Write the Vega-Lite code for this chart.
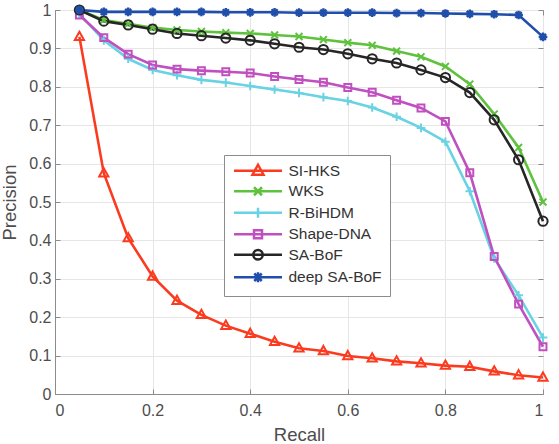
{
  "$schema": "https://vega.github.io/schema/vega-lite/v6.json",
  "width": 488,
  "height": 384,
  "autosize": {"type": "none"},
  "padding": {"left": 55, "top": 10, "right": 16, "bottom": 50},
  "background": "white",
  "config": {
    "view": {"stroke": "#8c8c8c", "strokeWidth": 1},
    "font": "Liberation Sans",
    "axis": {
      "labelFont": "Liberation Sans",
      "labelFontSize": 16,
      "labelColor": "#4d4d4d",
      "titleFont": "Liberation Sans",
      "titleFontSize": 18.5,
      "titleFontWeight": "normal",
      "titleColor": "#4d4d4d",
      "domainColor": "#8c8c8c",
      "tickColor": "#8c8c8c",
      "gridColor": "#e6e6e6",
      "gridWidth": 1
    },
    "point": {"filled": false, "size": 75, "strokeWidth": 2, "opacity": 1}
  },
  "data": {
    "values": [
      {"method": "SI-HKS", "recall": 0.05, "precision": 0.93},
      {"method": "SI-HKS", "recall": 0.10, "precision": 0.575},
      {"method": "SI-HKS", "recall": 0.15, "precision": 0.406},
      {"method": "SI-HKS", "recall": 0.20, "precision": 0.306},
      {"method": "SI-HKS", "recall": 0.25, "precision": 0.243},
      {"method": "SI-HKS", "recall": 0.30, "precision": 0.206},
      {"method": "SI-HKS", "recall": 0.35, "precision": 0.178},
      {"method": "SI-HKS", "recall": 0.40, "precision": 0.157},
      {"method": "SI-HKS", "recall": 0.45, "precision": 0.136},
      {"method": "SI-HKS", "recall": 0.50, "precision": 0.119},
      {"method": "SI-HKS", "recall": 0.55, "precision": 0.112},
      {"method": "SI-HKS", "recall": 0.60, "precision": 0.099},
      {"method": "SI-HKS", "recall": 0.65, "precision": 0.093},
      {"method": "SI-HKS", "recall": 0.70, "precision": 0.085},
      {"method": "SI-HKS", "recall": 0.75, "precision": 0.080},
      {"method": "SI-HKS", "recall": 0.80, "precision": 0.074},
      {"method": "SI-HKS", "recall": 0.85, "precision": 0.071},
      {"method": "SI-HKS", "recall": 0.90, "precision": 0.059},
      {"method": "SI-HKS", "recall": 0.95, "precision": 0.049},
      {"method": "SI-HKS", "recall": 1.00, "precision": 0.043},

      {"method": "WKS", "recall": 0.05, "precision": 1.0},
      {"method": "WKS", "recall": 0.10, "precision": 0.974},
      {"method": "WKS", "recall": 0.15, "precision": 0.964},
      {"method": "WKS", "recall": 0.20, "precision": 0.954},
      {"method": "WKS", "recall": 0.25, "precision": 0.948},
      {"method": "WKS", "recall": 0.30, "precision": 0.944},
      {"method": "WKS", "recall": 0.35, "precision": 0.941},
      {"method": "WKS", "recall": 0.40, "precision": 0.939},
      {"method": "WKS", "recall": 0.45, "precision": 0.935},
      {"method": "WKS", "recall": 0.50, "precision": 0.931},
      {"method": "WKS", "recall": 0.55, "precision": 0.923},
      {"method": "WKS", "recall": 0.60, "precision": 0.915},
      {"method": "WKS", "recall": 0.65, "precision": 0.908},
      {"method": "WKS", "recall": 0.70, "precision": 0.893},
      {"method": "WKS", "recall": 0.75, "precision": 0.878},
      {"method": "WKS", "recall": 0.80, "precision": 0.853},
      {"method": "WKS", "recall": 0.85, "precision": 0.807},
      {"method": "WKS", "recall": 0.90, "precision": 0.729},
      {"method": "WKS", "recall": 0.95, "precision": 0.642},
      {"method": "WKS", "recall": 1.00, "precision": 0.50},

      {"method": "R-BiHDM", "recall": 0.05, "precision": 0.99},
      {"method": "R-BiHDM", "recall": 0.10, "precision": 0.921},
      {"method": "R-BiHDM", "recall": 0.15, "precision": 0.873},
      {"method": "R-BiHDM", "recall": 0.20, "precision": 0.844},
      {"method": "R-BiHDM", "recall": 0.25, "precision": 0.830},
      {"method": "R-BiHDM", "recall": 0.30, "precision": 0.818},
      {"method": "R-BiHDM", "recall": 0.35, "precision": 0.811},
      {"method": "R-BiHDM", "recall": 0.40, "precision": 0.802},
      {"method": "R-BiHDM", "recall": 0.45, "precision": 0.793},
      {"method": "R-BiHDM", "recall": 0.50, "precision": 0.784},
      {"method": "R-BiHDM", "recall": 0.55, "precision": 0.773},
      {"method": "R-BiHDM", "recall": 0.60, "precision": 0.763},
      {"method": "R-BiHDM", "recall": 0.65, "precision": 0.746},
      {"method": "R-BiHDM", "recall": 0.70, "precision": 0.722},
      {"method": "R-BiHDM", "recall": 0.75, "precision": 0.693},
      {"method": "R-BiHDM", "recall": 0.80, "precision": 0.657},
      {"method": "R-BiHDM", "recall": 0.85, "precision": 0.528},
      {"method": "R-BiHDM", "recall": 0.90, "precision": 0.353},
      {"method": "R-BiHDM", "recall": 0.95, "precision": 0.257},
      {"method": "R-BiHDM", "recall": 1.00, "precision": 0.147},

      {"method": "Shape-DNA", "recall": 0.05, "precision": 0.987},
      {"method": "Shape-DNA", "recall": 0.10, "precision": 0.928},
      {"method": "Shape-DNA", "recall": 0.15, "precision": 0.885},
      {"method": "Shape-DNA", "recall": 0.20, "precision": 0.857},
      {"method": "Shape-DNA", "recall": 0.25, "precision": 0.846},
      {"method": "Shape-DNA", "recall": 0.30, "precision": 0.842},
      {"method": "Shape-DNA", "recall": 0.35, "precision": 0.839},
      {"method": "Shape-DNA", "recall": 0.40, "precision": 0.836},
      {"method": "Shape-DNA", "recall": 0.45, "precision": 0.827},
      {"method": "Shape-DNA", "recall": 0.50, "precision": 0.819},
      {"method": "Shape-DNA", "recall": 0.55, "precision": 0.812},
      {"method": "Shape-DNA", "recall": 0.60, "precision": 0.798},
      {"method": "Shape-DNA", "recall": 0.65, "precision": 0.786},
      {"method": "Shape-DNA", "recall": 0.70, "precision": 0.765},
      {"method": "Shape-DNA", "recall": 0.75, "precision": 0.745},
      {"method": "Shape-DNA", "recall": 0.80, "precision": 0.710},
      {"method": "Shape-DNA", "recall": 0.85, "precision": 0.576},
      {"method": "Shape-DNA", "recall": 0.90, "precision": 0.358},
      {"method": "Shape-DNA", "recall": 0.95, "precision": 0.234},
      {"method": "Shape-DNA", "recall": 1.00, "precision": 0.123},

      {"method": "SA-BoF", "recall": 0.05, "precision": 1.0},
      {"method": "SA-BoF", "recall": 0.10, "precision": 0.971},
      {"method": "SA-BoF", "recall": 0.15, "precision": 0.961},
      {"method": "SA-BoF", "recall": 0.20, "precision": 0.950},
      {"method": "SA-BoF", "recall": 0.25, "precision": 0.939},
      {"method": "SA-BoF", "recall": 0.30, "precision": 0.933},
      {"method": "SA-BoF", "recall": 0.35, "precision": 0.927},
      {"method": "SA-BoF", "recall": 0.40, "precision": 0.921},
      {"method": "SA-BoF", "recall": 0.45, "precision": 0.912},
      {"method": "SA-BoF", "recall": 0.50, "precision": 0.903},
      {"method": "SA-BoF", "recall": 0.55, "precision": 0.897},
      {"method": "SA-BoF", "recall": 0.60, "precision": 0.886},
      {"method": "SA-BoF", "recall": 0.65, "precision": 0.873},
      {"method": "SA-BoF", "recall": 0.70, "precision": 0.862},
      {"method": "SA-BoF", "recall": 0.75, "precision": 0.844},
      {"method": "SA-BoF", "recall": 0.80, "precision": 0.824},
      {"method": "SA-BoF", "recall": 0.85, "precision": 0.785},
      {"method": "SA-BoF", "recall": 0.90, "precision": 0.714},
      {"method": "SA-BoF", "recall": 0.95, "precision": 0.610},
      {"method": "SA-BoF", "recall": 1.00, "precision": 0.450},

      {"method": "deep SA-BoF", "recall": 0.05, "precision": 1.0},
      {"method": "deep SA-BoF", "recall": 0.10, "precision": 0.995},
      {"method": "deep SA-BoF", "recall": 0.15, "precision": 0.995},
      {"method": "deep SA-BoF", "recall": 0.20, "precision": 0.995},
      {"method": "deep SA-BoF", "recall": 0.25, "precision": 0.995},
      {"method": "deep SA-BoF", "recall": 0.30, "precision": 0.995},
      {"method": "deep SA-BoF", "recall": 0.35, "precision": 0.994},
      {"method": "deep SA-BoF", "recall": 0.40, "precision": 0.994},
      {"method": "deep SA-BoF", "recall": 0.45, "precision": 0.994},
      {"method": "deep SA-BoF", "recall": 0.50, "precision": 0.993},
      {"method": "deep SA-BoF", "recall": 0.55, "precision": 0.993},
      {"method": "deep SA-BoF", "recall": 0.60, "precision": 0.993},
      {"method": "deep SA-BoF", "recall": 0.65, "precision": 0.993},
      {"method": "deep SA-BoF", "recall": 0.70, "precision": 0.992},
      {"method": "deep SA-BoF", "recall": 0.75, "precision": 0.992},
      {"method": "deep SA-BoF", "recall": 0.80, "precision": 0.991},
      {"method": "deep SA-BoF", "recall": 0.85, "precision": 0.990},
      {"method": "deep SA-BoF", "recall": 0.90, "precision": 0.989},
      {"method": "deep SA-BoF", "recall": 0.95, "precision": 0.987},
      {"method": "deep SA-BoF", "recall": 1.00, "precision": 0.930}
    ]
  },
  "encoding": {
    "color": {
      "field": "method", "type": "nominal",
      "scale": {
        "domain": ["SI-HKS", "WKS", "R-BiHDM", "Shape-DNA", "SA-BoF", "deep SA-BoF"],
        "range": ["#fb3b1f", "#5fc23f", "#69d2e3", "#c04fc0", "#262626", "#1f4eab"]
      },
      "legend": null
    }
  },
  "layer": [
    {
      "mark": {"type": "line", "strokeWidth": 2.6},
      "encoding": {
        "x": {
          "field": "recall", "type": "quantitative",
          "scale": {"domain": [0, 1], "nice": false, "zero": false},
          "axis": {"title": "Recall", "values": [0, 0.2, 0.4, 0.6, 0.8, 1], "format": "~g", "grid": true, "tickSize": -5, "labelPadding": 13, "titlePadding": 7}
        },
        "y": {
          "field": "precision", "type": "quantitative",
          "scale": {"domain": [0, 1], "nice": false, "zero": false},
          "axis": {"title": "Precision", "values": [0, 0.1, 0.2, 0.3, 0.4, 0.5, 0.6, 0.7, 0.8, 0.9, 1], "format": "~g", "grid": true, "tickSize": -5, "labelPadding": 9, "titleX": -36}
        },
        "color": {
          "field": "method", "type": "nominal",
          "legend": {
            "orient": "none", "legendX": 169, "legendY": 145, "title": null,
            "padding": 8, "strokeColor": "#8c8c8c", "fillColor": "white",
            "labelFont": "Liberation Sans", "labelFontSize": 15.5, "labelColor": "#333333",
            "symbolSize": 100, "rowPadding": 1.5, "labelOffset": 41, "symbolStrokeWidth": 2.5,
            "encode": {
              "symbols": {
                "update": {
                  "shape": {"signal": "datum.value === 'SI-HKS' ? 'M-4.8,0L4.8,0M0,-1.2L1.1,0.8L-1.1,0.8Z' : datum.value === 'WKS' ? 'M-4.8,0L4.8,0M-0.8,-0.8L0.8,0.8M-0.8,0.8L0.8,-0.8' : datum.value === 'R-BiHDM' ? 'M-4.8,0L4.8,0M0,-1L0,1' : datum.value === 'Shape-DNA' ? 'M-4.8,0L4.8,0M-0.8,-0.8L0.8,-0.8L0.8,0.8L-0.8,0.8Z' : datum.value === 'SA-BoF' ? 'M-4.8,0L4.8,0M0.95,0A0.95,0.95,0,1,1,-0.95,0A0.95,0.95,0,1,1,0.95,0Z' : 'M-4.8,0L4.8,0M0,-1L0,1M-0.75,-0.75L0.75,0.75M-0.75,0.75L0.75,-0.75'"},
                  "x": {"value": 26},
                  "fill": {"value": "transparent"},
                  "strokeWidth": {"value": 2.5},
                  "opacity": {"value": 1}
                }
              }
            }
          }
        }
      }
    },
    {
      "transform": [{"filter": "datum.method === 'SI-HKS'"}],
      "mark": {"type": "point", "shape": "M0,-1.1L1,0.7L-1,0.7Z", "size": 85},
      "encoding": {
        "x": {"field": "recall", "type": "quantitative", "axis": {"orient": "top", "title": null, "labels": false, "grid": false, "domain": false, "values": [0, 0.2, 0.4, 0.6, 0.8, 1], "tickSize": -5}},
        "y": {"field": "precision", "type": "quantitative", "axis": {"orient": "right", "title": null, "labels": false, "grid": false, "domain": false, "values": [0, 0.1, 0.2, 0.3, 0.4, 0.5, 0.6, 0.7, 0.8, 0.9, 1], "tickSize": -5}}
      }
    },
    {
      "transform": [{"filter": "datum.method === 'WKS'"}],
      "mark": {"type": "point", "shape": "M-0.8,-0.8L0.8,0.8M-0.8,0.8L0.8,-0.8"},
      "encoding": {
        "x": {"field": "recall", "type": "quantitative", "axis": null},
        "y": {"field": "precision", "type": "quantitative", "axis": null}
      }
    },
    {
      "transform": [{"filter": "datum.method === 'R-BiHDM'"}],
      "mark": {"type": "point", "shape": "M-1,0L1,0M0,-1L0,1"},
      "encoding": {
        "x": {"field": "recall", "type": "quantitative", "axis": null},
        "y": {"field": "precision", "type": "quantitative", "axis": null}
      }
    },
    {
      "transform": [{"filter": "datum.method === 'Shape-DNA'"}],
      "mark": {"type": "point", "shape": "M-0.8,-0.8L0.8,-0.8L0.8,0.8L-0.8,0.8Z"},
      "encoding": {
        "x": {"field": "recall", "type": "quantitative", "axis": null},
        "y": {"field": "precision", "type": "quantitative", "axis": null}
      }
    },
    {
      "transform": [{"filter": "datum.method === 'SA-BoF'"}],
      "mark": {"type": "point", "shape": "circle", "size": 85},
      "encoding": {
        "x": {"field": "recall", "type": "quantitative", "axis": null},
        "y": {"field": "precision", "type": "quantitative", "axis": null}
      }
    },
    {
      "transform": [{"filter": "datum.method === 'deep SA-BoF'"}],
      "mark": {"type": "point", "shape": "M-1,0L1,0M0,-1L0,1M-0.7,-0.7L0.7,0.7M-0.7,0.7L0.7,-0.7", "strokeWidth": 2.4},
      "encoding": {
        "x": {"field": "recall", "type": "quantitative", "axis": null},
        "y": {"field": "precision", "type": "quantitative", "axis": null}
      }
    }
  ],
  "resolve": {"axis": {"x": "independent", "y": "independent"}}
}
